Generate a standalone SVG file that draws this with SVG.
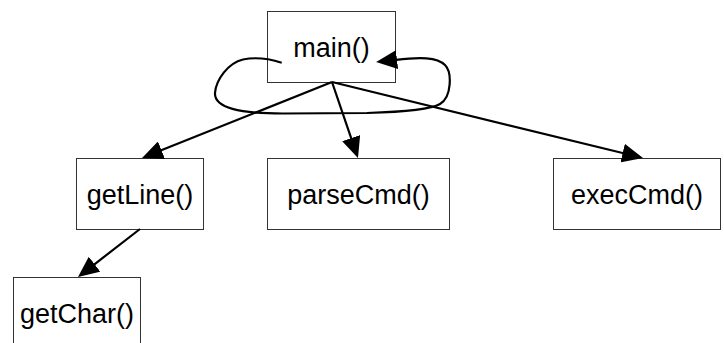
<svg xmlns="http://www.w3.org/2000/svg" width="724" height="343" viewBox="0 0 724 343">
<style>
.box{fill:#fff;stroke:#333;stroke-width:1}
.lbl{font-family:"Liberation Sans",Arial,sans-serif;font-size:27px;fill:#000;text-anchor:middle}
.edge{fill:none;stroke:#000;stroke-width:2.2}
</style>
<defs>
<marker id="ah" markerUnits="userSpaceOnUse" markerWidth="21" markerHeight="19" viewBox="0 0 21 19" refX="1" refY="9.5" orient="auto">
<path d="M0,0 L21,9.5 L0,19 z" fill="#000"/>
</marker>
</defs>
<rect width="724" height="343" fill="#fff"/>
<g id="main"><rect class="box" x="267.5" y="11.5" width="128" height="71"/><text class="lbl" x="331.5" y="57">main()</text></g>
<g id="getLine"><rect class="box" x="76.5" y="158.5" width="127" height="71"/><text class="lbl" x="140" y="204">getLine()</text></g>
<g id="parseCmd"><rect class="box" x="267.5" y="158.5" width="182" height="71"/><text class="lbl" x="358.5" y="204">parseCmd()</text></g>
<g id="execCmd"><rect class="box" x="553.5" y="158.5" width="167" height="71"/><text class="lbl" x="637" y="204">execCmd()</text></g>
<g id="getChar"><rect class="box" x="13.5" y="277.5" width="127" height="71"/><text class="lbl" x="77" y="323">getChar()</text></g>
<g id="connectors">
<path class="edge" d="M332,82 L160.6,150.6" marker-end="url(#ah)"/>
<path class="edge" d="M332,82 L351.5,139.1" marker-end="url(#ah)"/>
<path class="edge" d="M332,82 L623.6,153.3" marker-end="url(#ah)"/>
<path class="edge" d="M140,229 L93.8,264.8" marker-end="url(#ah)"/>
<path class="edge" d="M281.7,62.7 C270,59 255,57 243,59.5 C228,63 216,80 215,93 C214,108 240,113.5 283,113.5 L367,113 C400,112 430,110 440,104 C452,97 452,72 445,65 C437,57 420,57 396,59.8" marker-end="url(#ah)"/>
</g>
</svg>
